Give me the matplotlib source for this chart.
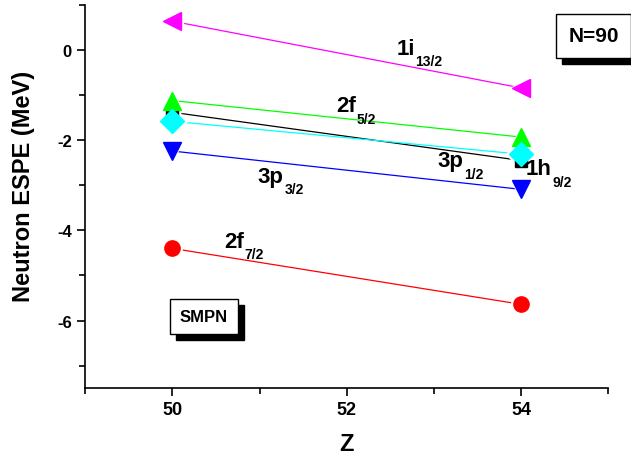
import matplotlib
matplotlib.use("Agg")
import matplotlib.pyplot as plt
from matplotlib.patches import Rectangle
from matplotlib.ticker import MultipleLocator
from matplotlib.transforms import IdentityTransform

plt.rcParams['font.family'] = ['Liberation Sans', 'DejaVu Sans']
plt.rcParams['font.weight'] = 'bold'
plt.rcParams['axes.unicode_minus'] = False

z = [50, 54]
espe_1i13 = [0.64, -0.84]
espe_2f5 = [-1.12, -1.93]
espe_1h9 = [-1.38, -2.45]
espe_3p1 = [-1.58, -2.31]
espe_3p3 = [-2.24, -3.09]
espe_2f7 = [-4.40, -5.64]

series = [
    (espe_1i13, "#ff00ff", "<", 13),
    (espe_1h9, "black", "s", 8),
    (espe_2f5, "#00ff00", "^", 13),
    (espe_3p1, "#00ffff", "D", 12),
    (espe_3p3, "#0000ff", "v", 13),
    (espe_2f7, "#ff0000", "o", 11),
]

fig = plt.figure(figsize=(6.31, 4.6), dpi=100)
ax = fig.add_axes([0.135, 0.154, 0.829, 0.833])

# lines first, with a white halo round the end points (Origin style gap)
for vals, col, mk, ms in series:
    ax.plot(z, vals, color=col, lw=0.9, marker=mk, markersize=ms + 3,
            markerfacecolor="white", markeredgecolor="white", zorder=2)
for vals, col, mk, ms in series:
    ax.plot(z, vals, ls="none", marker=mk, markersize=ms,
            markeredgecolor=col, markerfacecolor=col, zorder=3)


def level_label(x, y, main, sub):
    t = ax.text(x, y, main, fontsize=16, fontweight="bold", va="baseline")
    ax.annotate(sub, xy=(1, 0), xycoords=t, xytext=(0.5, 3.5),
                textcoords="offset points", fontsize=10, fontweight="bold",
                va="top", ha="left")


level_label(52.57, -0.09, "1i", "13/2")
level_label(51.88, -1.36, "2f", "5/2")
level_label(53.04, -2.58, "3p", "1/2")
level_label(54.05, -2.76, "1h", "9/2")
level_label(50.98, -2.93, "3p", "3/2")
level_label(50.59, -4.36, "2f", "7/2")

boxes = []
for x, y, label, size in [(54.83, 0.32, "N=90", 15), (50.36, -5.9, "SMPN", 12)]:
    boxes.append(ax.text(x, y, label, fontsize=size, fontweight="bold",
                         ha="center", va="center", clip_on=False, zorder=5,
                         bbox=dict(boxstyle="square,pad=0.6", fc="white",
                                   ec="black", lw=1)))

ax.set_xlim(49, 55)
ax.set_ylim(-7.5, 1)
ax.xaxis.set_major_locator(MultipleLocator(2))
ax.xaxis.set_minor_locator(MultipleLocator(1))
ax.yaxis.set_major_locator(MultipleLocator(2))
ax.yaxis.set_minor_locator(MultipleLocator(1))
ax.tick_params(which="major", direction="out", length=6, width=1.2)
ax.tick_params(which="minor", direction="out", length=4, width=1.2)
ax.tick_params(axis="x", labelsize=13)
ax.tick_params(axis="y", labelsize=12)
for t in ax.get_xticklabels() + ax.get_yticklabels():
    t.set_fontweight("bold")
ax.spines["top"].set_visible(False)
ax.spines["right"].set_visible(False)
ax.spines["left"].set_linewidth(1.2)
ax.spines["bottom"].set_linewidth(1.2)

ax.set_xlabel("Z", fontsize=17, fontweight="bold", labelpad=10)
ax.set_ylabel("Neutron ESPE (MeV)", fontsize=17, fontweight="bold")
ax.yaxis.set_label_coords(-0.095, 0.53)

# drop shadows behind the two boxes
fig.canvas.draw()
for t in boxes:
    bb = t.get_bbox_patch().get_window_extent()
    shadow = Rectangle((bb.x0 + 6, bb.y0 - 6), bb.width, bb.height,
                       transform=IdentityTransform(), fc="black",
                       ec="black", zorder=4, clip_on=False)
    ax.add_artist(shadow)

fig.savefig("out.png", dpi=100)
